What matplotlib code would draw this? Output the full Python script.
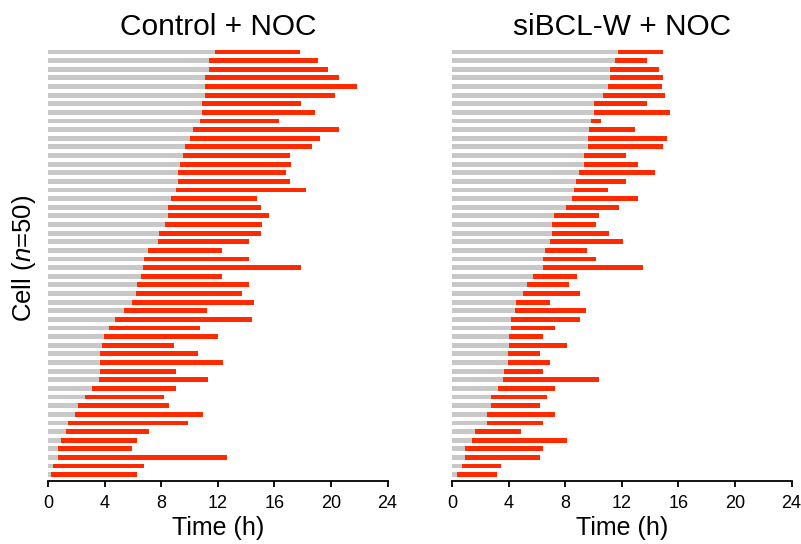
import matplotlib
matplotlib.use('Agg')
import matplotlib.pyplot as plt
import numpy as np

plt.rcParams['font.family'] = ['Liberation Sans', 'DejaVu Sans']
plt.rcParams['mathtext.fontset'] = 'custom'
plt.rcParams['mathtext.it'] = 'Liberation Sans:italic'
plt.rcParams['mathtext.rm'] = 'Liberation Sans'

# time (h) of mitosis entry (end of gray) and exit (end of red), top cell first
ctrl_start = [11.82, 11.35, 11.35, 11.09, 11.09, 11.09, 10.85, 10.85, 10.74, 10.24,
              10.00, 9.65, 9.53, 9.30, 9.18, 9.18, 9.06, 8.71, 8.47, 8.47,
              8.24, 7.86, 7.74, 7.03, 6.80, 6.68, 6.56, 6.30, 6.18, 5.94,
              5.36, 4.74, 4.27, 3.92, 3.80, 3.68, 3.68, 3.68, 3.56, 3.07,
              2.60, 2.12, 1.89, 1.39, 1.27, 0.92, 0.69, 0.69, 0.33, 0.21]
ctrl_end = [17.79, 19.11, 19.82, 20.55, 21.87, 20.31, 17.91, 18.88, 16.35, 20.55,
            19.23, 18.64, 17.08, 17.20, 16.85, 17.08, 18.26, 14.79, 15.03, 15.62,
            15.15, 15.03, 14.20, 12.27, 14.20, 17.91, 12.27, 14.20, 13.73, 14.56,
            11.21, 14.44, 10.74, 12.03, 8.92, 10.60, 12.39, 9.04, 11.32, 9.04,
            8.21, 8.56, 10.95, 9.89, 7.15, 6.30, 5.94, 12.62, 6.80, 6.30]

si_start = [11.73, 11.49, 11.13, 11.13, 11.02, 10.64, 10.05, 10.05, 9.82, 9.70,
            9.57, 9.57, 9.34, 9.34, 8.99, 8.72, 8.61, 8.49, 8.01, 7.16,
            7.05, 7.05, 6.93, 6.57, 6.45, 6.45, 5.72, 5.25, 5.01, 4.52,
            4.40, 4.16, 4.16, 4.04, 4.04, 3.93, 3.93, 3.69, 3.57, 3.22,
            2.72, 2.72, 2.48, 2.48, 1.63, 1.40, 0.92, 0.92, 0.69, 0.33]
si_end = [14.94, 13.76, 14.59, 14.94, 14.82, 15.06, 13.76, 15.42, 10.50, 12.91,
          15.18, 14.94, 12.32, 13.15, 14.35, 12.32, 10.99, 13.15, 11.82, 10.38,
          10.14, 11.11, 12.08, 9.55, 10.14, 13.50, 8.82, 8.23, 9.06, 6.91,
          9.43, 9.06, 7.26, 6.43, 8.11, 6.20, 6.91, 6.43, 10.38, 7.26,
          6.67, 6.20, 7.26, 6.43, 4.87, 8.11, 6.43, 6.20, 3.43, 3.19]

titles = ['Control + NOC', 'siBCL-W + NOC']
ticks = [0, 4, 8, 12, 16, 20, 24]

gray = '#c8c8c8'
red = '#ff2a00'

fig = plt.figure(figsize=(8.01, 5.44), dpi=100)
ax1 = fig.add_axes([0.0603, 0.1164, 0.4235, 0.8006])
ax2 = fig.add_axes([0.5647, 0.1164, 0.4235, 0.8006])

for ax, start, end, title in [(ax1, ctrl_start, ctrl_end, titles[0]),
                              (ax2, si_start, si_end, titles[1])]:
    n = len(start)
    y = np.arange(n)[::-1]
    s = np.array(start)
    e = np.array(end)
    ax.barh(y, s, left=0, height=0.56, color=gray, edgecolor='none')
    ax.barh(y, e - s, left=s, height=0.56, color=red, edgecolor='none')
    ax.set_xlim(0, 24)
    ax.set_ylim(-0.695, 49.79)
    ax.set_xticks(ticks)
    ax.set_xticklabels([str(t) for t in ticks], fontsize=13)
    ax.set_yticks([])
    for sp in ['top', 'right', 'left']:
        ax.spines[sp].set_visible(False)
    ax.spines['bottom'].set_linewidth(1.3)
    ax.tick_params(axis='x', direction='out', length=4, width=1.3, pad=6)
    ax.set_xlabel('Time (h)', fontsize=18, labelpad=3)
    ax.set_title(title, fontsize=21.5, pad=7)

ax1.set_ylabel('Cell ($\\mathit{n}$=50)', fontsize=18.5)
ax1.yaxis.set_label_coords(-0.03, 0.51)

plt.savefig('out.png', dpi=100)
